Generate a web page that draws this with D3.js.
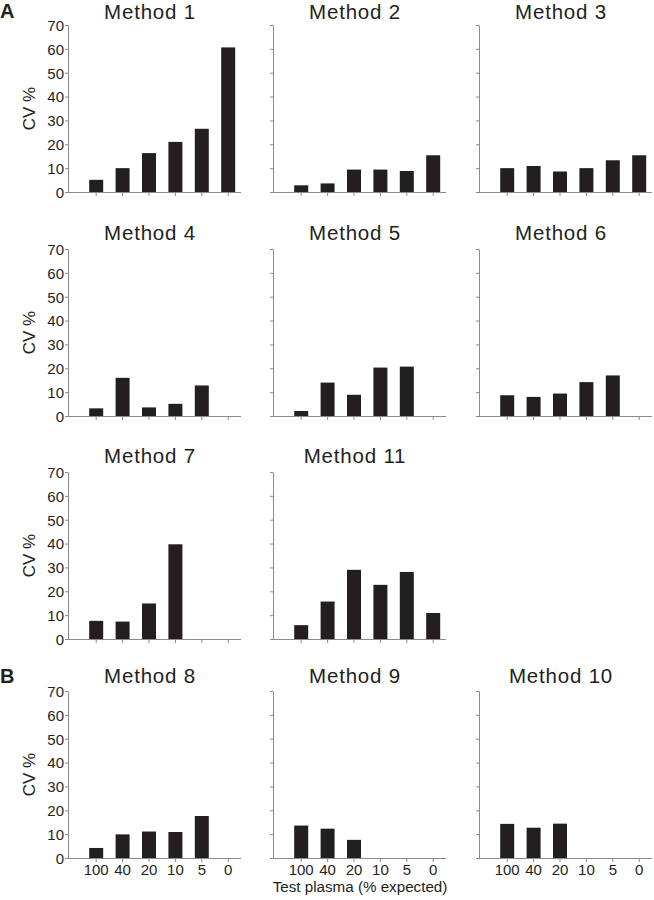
<!DOCTYPE html>
<html><head><meta charset="utf-8">
<script src="https://cdn.jsdelivr.net/npm/d3@7"></script>
<style>body{margin:0;background:#fff}svg{display:block;font-family:"Liberation Sans",Arial,Helvetica,sans-serif}</style>
</head><body>
<script>
const categories = ["100","40","20","10","5","0"];
const yTicks = [0,10,20,30,40,50,60,70];
const method1  = [5.1, 10.0, 16.3, 21.0, 26.5, 60.6];
const method2  = [2.8, 3.6, 9.4, 9.4, 8.8, 15.4];
const method3  = [10.0, 10.9, 8.6, 10.0, 13.3, 15.4];
const method4  = [3.2, 16.0, 3.6, 5.1, 12.8, null];
const method5  = [2.1, 14.0, 8.9, 20.3, 20.7, null];
const method6  = [8.7, 8.0, 9.4, 14.2, 17.0, null];
const method7  = [7.6, 7.3, 14.9, 39.7, null, null];
const method11 = [5.8, 15.7, 29.0, 22.7, 28.1, 10.9];
const method8  = [4.2, 9.9, 11.1, 10.9, 17.6, null];
const method9  = [13.6, 12.3, 7.6, null, null, null];
const method10 = [14.3, 12.7, 14.4, null, null, null];

const panels = [
  {title:"Method 1", values:method1, row:0, col:0},
  {title:"Method 2", values:method2, row:0, col:1},
  {title:"Method 3", values:method3, row:0, col:2},
  {title:"Method 4", values:method4, row:1, col:0},
  {title:"Method 5", values:method5, row:1, col:1},
  {title:"Method 6", values:method6, row:1, col:2},
  {title:"Method 7", values:method7, row:2, col:0},
  {title:"Method 11", values:method11, row:2, col:1},
  {title:"Method 8", values:method8, row:3, col:0},
  {title:"Method 9", values:method9, row:3, col:1},
  {title:"Method 10", values:method10, row:3, col:2}
];

const W = 654, H = 900;
const colX = [68, 273, 479];
const rowY = [25, 249, 472, 691];
const titleY = [19, 240, 463, 683];
const plotH = 167, axisLen = 173;
const ink = "#231f20", axisCol = "#8a8a8a";

const svg = d3.select("body").append("svg").attr("width", W).attr("height", H);

panels.forEach(p => {
  const x0 = colX[p.col], y0 = rowY[p.row];
  const g = svg.append("g").attr("transform", `translate(${x0},${y0})`);
  const x = d3.scaleBand().domain(categories).range([15, 15 + 6*26.4]).paddingInner(0.47).paddingOuter(0.235);
  const y = d3.scaleLinear().domain([0, 70]).range([plotH, 0]);

  // bars
  g.selectAll("rect.bar").data(categories.map((c,i)=>({c, v:p.values[i]})).filter(d=>d.v!=null))
    .enter().append("rect")
    .attr("x", d => x(d.c)).attr("width", x.bandwidth())
    .attr("y", d => y(d.v)).attr("height", d => y(0) - y(d.v))
    .attr("fill", ink);

  // y axis
  const ya = d3.axisLeft(y).tickValues(yTicks).tickSize(3).tickSizeOuter(0)
    .tickFormat(p.col === 0 ? d3.format("d") : () => "");
  const yg = g.append("g").call(ya);
  yg.select(".domain").attr("stroke", axisCol);
  yg.selectAll(".tick line").attr("stroke", axisCol);
  yg.selectAll("text").attr("fill", ink).attr("font-size", 15).attr("x", -4).attr("dy", "0.36em");

  // x axis
  const xa = d3.axisBottom(x).tickSize(4).tickSizeOuter(0)
    .tickFormat(p.row === 3 ? d => d : () => "");
  const xg = g.append("g").attr("transform", `translate(0,${plotH})`).call(xa);
  xg.select(".domain").attr("stroke", axisCol).attr("d", `M0,0.5H${axisLen}`);
  xg.selectAll(".tick line").attr("stroke", axisCol);
  xg.selectAll("text").attr("fill", ink).attr("font-size", 15).attr("y", 6);

  // title
  svg.append("text").attr("x", x0 + 82).attr("y", titleY[p.row]).attr("text-anchor", "middle")
    .attr("font-size", 20.5).attr("letter-spacing", 0.8).attr("fill", ink).text(p.title);

  // y label
  if (p.col === 0) {
    g.append("text").attr("transform", `translate(-33,${plotH/2}) rotate(-90)`)
      .attr("text-anchor", "middle").attr("font-size", 17).attr("fill", ink).text("CV %");
  }
});

// panel letters
svg.append("text").attr("x", 0).attr("y", 18).attr("font-size", 20).attr("font-weight", "bold").attr("fill", ink).text("A");
svg.append("text").attr("x", 0).attr("y", 683).attr("font-size", 20).attr("font-weight", "bold").attr("fill", ink).text("B");

// x axis label
svg.append("text").attr("x", 360).attr("y", 892).attr("text-anchor", "middle")
  .attr("font-size", 15.2).attr("fill", ink).text("Test plasma (% expected)");
</script>
</body></html>
